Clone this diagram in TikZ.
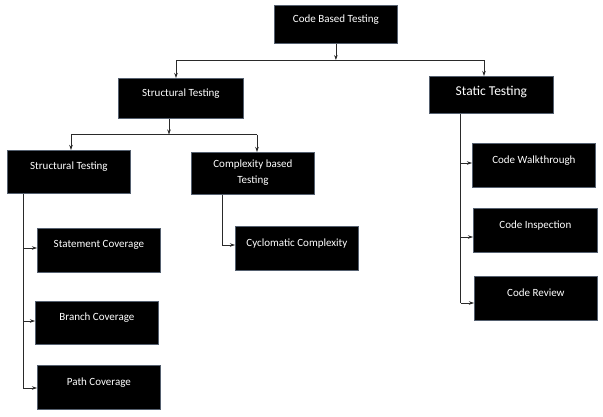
\documentclass[tikz,border=0pt]{standalone}
\usepackage{fontspec}
\setmainfont{Carlito}
\usepackage{tikz}
\usetikzlibrary{arrows.meta}
\definecolor{boxedge}{HTML}{55606F}
\definecolor{wire}{HTML}{2A2A2A}

\tikzset{
  tbox/.style={draw=boxedge, fill=black, text=white, line width=0.8pt,
    anchor=north west, inner sep=0pt, minimum height=#1, text depth=12pt,
    font=\fontsize{11}{13}\selectfont, minimum width=123pt},
  tbox/.default=44pt,
  wire/.style={draw=wire, line width=0.7pt},
  >={Stealth[length=5pt,width=3.5pt]}
}

\begin{document}
\begin{tikzpicture}[x=1pt,y=-1pt]
\useasboundingbox[fill=white] (0,0) rectangle (603,416);

% Top level
\node[tbox=38pt] (code) at (274,5) {Code Based Testing};

% Second level
\node[tbox=40pt, minimum width=125pt] (struct) at (118,78) {Structural Testing};
\node[tbox=37pt, minimum width=124pt, font=\fontsize{13.5}{16}\selectfont, text depth=9pt] (static) at (429,76) {Static Testing};

% Third level
\node[tbox=43pt] (structb) at (7,150) {Structural Testing};
\node[tbox=42pt, align=center, text depth=3pt, font=\fontsize{11}{16}\selectfont] (cplx) at (191,152) {Complexity based\\Testing};

% Leaves
\node[tbox] (stmt) at (37,228) {Statement Coverage};
\node[tbox=43pt] (branch) at (35,301) {Branch Coverage};
\node[tbox] (path) at (37,365) {Path Coverage};
\node[tbox] (cyclo) at (235,226) {Cyclomatic Complexity};
\node[tbox] (walk) at (472,143) {Code Walkthrough};
\node[tbox, minimum width=124pt] (insp) at (473,208) {Code Inspection};
\node[tbox] (review) at (474,276) {Code Review};

% Bus points
\coordinate (busl) at (176,60);
\coordinate (busr) at (484,60);
\coordinate (subl) at (71,134.5);
\coordinate (subr) at (257,134.5);

% Code based testing to its two kinds
\draw[wire,->] (code.south) -- (code.south |- busl);
\draw[wire] (busl) -- (busr);
\draw[wire,->] (busl) -- (busl |- struct.north);
\draw[wire,->] (busr) -- (busr |- static.north);

% Structural testing to its two kinds
\draw[wire,->] (169,0 |- struct.south) -- (169,134.5);
\draw[wire] (subl) -- (subr);
\draw[wire,->] (subl) -- (subl |- structb.north);
\draw[wire,->] (subr) -- (subr |- cplx.north);

% Coverage branch
\coordinate (ta) at (23,0 |- structb.south);
\draw[wire] (ta) -- (23,388);
\draw[wire,->] (23,248) -- (23,248 -| stmt.west);
\draw[wire,->] (23,321) -- (23,321 -| branch.west);
\draw[wire,->] (23,388) -- (23,388 -| path.west);

% Complexity branch
\coordinate (tb) at (222,0 |- cplx.south);
\draw[wire] (tb) -- (222,245);
\draw[wire,->] (222,245) -- (222,245 -| cyclo.west);

% Static branch
\coordinate (tc) at (460.5,0 |- static.south);
\draw[wire] (tc) -- (460.5,303);
\draw[wire,->] (460.5,163) -- (460.5,163 -| walk.west);
\draw[wire,->] (460.5,237) -- (460.5,237 -| insp.west);
\draw[wire,->] (460.5,303) -- (460.5,303 -| review.west);

\end{tikzpicture}
\end{document}
